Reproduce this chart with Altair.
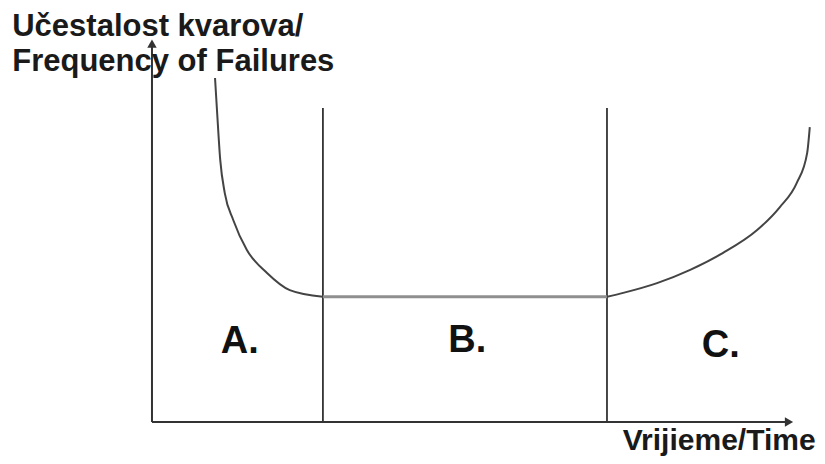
import altair as alt
import pandas as pd

# ---- data (time t, failure frequency f) ----
early_t = [9.7, 10.0, 10.5, 11.2, 12.5, 14.6, 17.7, 21.2, 26.3]
early_f = [88.2, 80.0, 67.2, 58.7, 51.8, 44.1, 38.2, 33.8, 32.1]

flat_t = [26.3, 70.0]
flat_f = [32.1, 32.1]

wear_t = [70.0, 72.5, 77.7, 82.8, 87.8, 93.1, 96.6, 99.2, 100.8, 101.2]
wear_f = [32.1, 33.1, 35.6, 39.0, 43.3, 49.2, 55.1, 61.3, 69.0, 75.6]

boundaries_t = [26.3, 70.0]
boundary_top = 80.5

phase_labels = ["A.", "B.", "C."]
phase_t = [13.5, 48.5, 87.5]
phase_f = [17.7, 17.9, 16.7]

title_lines = ["Učestalost kvarova/", "Frequency of Failures"]
title_f = [98.9, 90.0]
title_t = -21.5

xlabel = "Vrijieme/Time"

X_DOM = [-22.15, 102.31]
Y_DOM = [-8.72, 106.15]
W, H = 809, 448

xs = alt.Scale(domain=X_DOM, nice=False, zero=False)
ys = alt.Scale(domain=Y_DOM, nice=False, zero=False)

def X(field="t"):
    return alt.X(f"{field}:Q", scale=xs, axis=None)

def Y(field="f"):
    return alt.Y(f"{field}:Q", scale=ys, axis=None)

early = pd.DataFrame({"t": early_t, "f": early_f, "o": range(len(early_t))})
flat = pd.DataFrame({"t": flat_t, "f": flat_f, "o": range(2)})
wear = pd.DataFrame({"t": wear_t, "f": wear_f, "o": range(len(wear_t))})

axes = pd.DataFrame({"t": [0, 0], "f": [0, 0], "t2": [0, 98.0], "f2": [97.0, 0]})
arrows = pd.DataFrame({"t": [0, 98.0], "f": [97.0, 0], "shape": ["triangle-up", "triangle-right"]})
bounds = pd.DataFrame({"t": boundaries_t, "f": [0, 0], "f2": [boundary_top] * 2})
phases = pd.DataFrame({"label": phase_labels, "t": phase_t, "f": phase_f})
titles = pd.DataFrame({"label": title_lines, "t": [title_t] * 2, "f": title_f})
xlab = pd.DataFrame({"label": [xlabel], "t": [102.1], "f": [-7.2]})

axis_rules = alt.Chart(axes).mark_rule(color="#333333", strokeWidth=2).encode(
    x=X(), y=Y(), x2="t2:Q", y2="f2:Q")

arrow_heads = alt.Chart(arrows).mark_point(filled=True, color="#333333", size=90, opacity=1).encode(
    x=X(), y=Y(), shape=alt.Shape("shape:N", scale=None))

bound_rules = alt.Chart(bounds).mark_rule(color="#1a1a1a", strokeWidth=1.6).encode(
    x=X(), y=Y(), y2="f2:Q")

early_line = alt.Chart(early).mark_line(color="#444444", strokeWidth=2, interpolate="monotone").encode(
    x=X(), y=Y(), order="o:Q")
flat_line = alt.Chart(flat).mark_line(color="#8f8f8f", strokeWidth=3).encode(
    x=X(), y=Y(), order="o:Q")
wear_line = alt.Chart(wear).mark_line(color="#444444", strokeWidth=2, interpolate="monotone").encode(
    x=X(), y=Y(), order="o:Q")

phase_text = alt.Chart(phases).mark_text(
    font="Liberation Sans", fontWeight="bold", fontSize=38, color="#111111",
    align="center", baseline="alphabetic").encode(x=X(), y=Y(), text="label:N")

title_text = alt.Chart(titles).mark_text(
    font="Liberation Sans", fontWeight="bold", fontSize=31, color="#1a1a1a",
    align="left", baseline="alphabetic").encode(x=X(), y=Y(), text="label:N")

xlab_text = alt.Chart(xlab).mark_text(
    font="Liberation Sans", fontWeight="bold", fontSize=30, color="#1a1a1a",
    align="right", baseline="alphabetic").encode(x=X(), y=Y(), text="label:N")

chart = alt.layer(
    bound_rules, flat_line, early_line, wear_line, axis_rules, arrow_heads,
    phase_text, title_text, xlab_text
).properties(
    width=W, height=H, padding=0,
    autosize=alt.AutoSizeParams(type="none"),
).configure_view(strokeWidth=0, stroke="transparent")

chart.save("out.html", embed_options={"renderer": "svg", "actions": False})
